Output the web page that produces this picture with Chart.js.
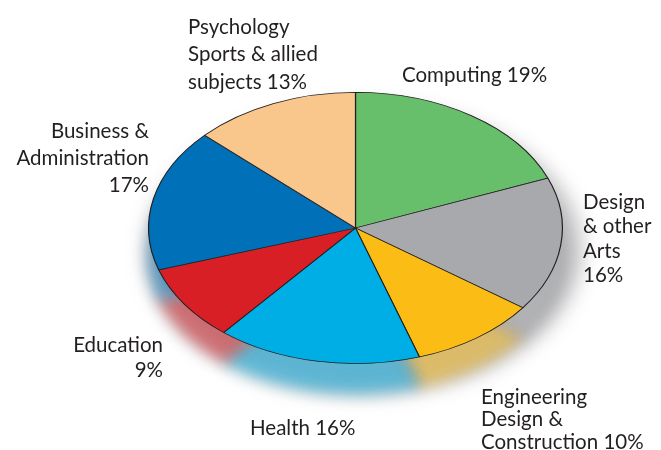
<!DOCTYPE html>
<html>
<head>
<meta charset="utf-8">
<script src="https://cdn.jsdelivr.net/npm/chart.js@4.4.1/dist/chart.umd.min.js"></script>
<style>
  html, body { margin: 0; padding: 0; background: #ffffff; }
  #wrap { position: relative; width: 661px; height: 450px; }
</style>
</head>
<body>
<div id="wrap"><canvas id="pieChart" width="661" height="450"></canvas></div>
<script>
// data, clockwise from 12 o'clock
let categories = ['Computing', 'Design & other Arts', 'Engineering Design & Construction', 'Health', 'Education', 'Business & Administration', 'Psychology Sports & allied subjects'];
let shares = [19, 16, 10, 16, 9, 17, 13];
let sliceColors = ['#67bf6b', '#a7a9ac', '#fbbc15', '#00aee6', '#d91f26', '#0071b9', '#f9c78c'];

// label text lines (last line carries the share)
let labelLines = [
  ['Computing 19%'],
  ['Design', '& other', 'Arts', '16%'],
  ['Engineering', 'Design &', 'Construction 10%'],
  ['Health 16%'],
  ['Education', '9%'],
  ['Business &', 'Administration', '17%'],
  ['Psychology', 'Sports & allied', 'subjects 13%']
];

// where each label block sits: x, first line middle y, line height, alignment
let labelPlace = [
  { x: 402, y: 75, lh: 27, align: 'left' },
  { x: 583, y: 202, lh: 24.5, align: 'left' },
  { x: 481, y: 397, lh: 22.5, align: 'left' },
  { x: 250, y: 428, lh: 27, align: 'left' },
  { x: 163, y: 345, lh: 25, align: 'right' },
  { x: 149, y: 131, lh: 27, align: 'right' },
  { x: 188, y: 27, lh: 27.5, align: 'left' }
];

let squash = 136 / 207.5;

function squashAround(ctx, area) {
  let cy = (area.top + area.bottom) / 2;
  ctx.translate(0, cy);
  ctx.scale(1, squash);
  ctx.translate(0, -cy);
}

let ellipsePie = {
  id: 'ellipsePie',
  beforeDatasetsDraw(chart) {
    let ctx = chart.ctx;
    let area = chart.chartArea;
    let arcs = chart.getDatasetMeta(0).data;
    let cx = (area.left + area.right) / 2;
    let cy = (area.top + area.bottom) / 2;
    let r = (area.right - area.left) / 2;

    // soft grey rim below
    ctx.save();
    ctx.filter = 'blur(10px)';
    ctx.fillStyle = 'rgba(120,120,125,0.5)';
    ctx.beginPath();
    ctx.ellipse(cx + 8, cy + 22, r + 10, r * squash + 8, 0, 0, Math.PI * 2);
    ctx.fill();
    ctx.restore();

    // blurred coloured copy, paler
    ctx.save();
    ctx.filter = 'blur(7px)';
    ctx.globalAlpha = 0.5;
    ctx.translate(0, 30);
    squashAround(ctx, area);
    arcs.forEach(a => a.draw(ctx));
    ctx.restore();

    ctx.save();
    squashAround(ctx, area);
  },
  afterDatasetsDraw(chart) {
    chart.ctx.restore();
  },
  afterDraw(chart) {
    let ctx = chart.ctx;
    ctx.save();
    ctx.font = '20.5px Lato';
    ctx.fillStyle = '#231f20';
    ctx.textBaseline = 'middle';
    labelLines.forEach((lines, i) => {
      let p = labelPlace[i];
      ctx.textAlign = p.align;
      lines.forEach((t, j) => ctx.fillText(t, p.x, p.y + j * p.lh));
    });
    ctx.restore();
  }
};

let ctx = document.getElementById('pieChart').getContext('2d');
let pieChart = new Chart(ctx, {
  type: 'pie',
  data: {
    labels: categories,
    datasets: [{
      data: shares,
      backgroundColor: sliceColors,
      borderColor: '#231f20',
      borderWidth: 1.2
    }]
  },
  options: {
    responsive: false,
    animation: false,
    layout: {
      padding: { left: 148, right: 98, top: 20.5, bottom: 14.5 }
    },
    plugins: {
      legend: { display: false },
      tooltip: { enabled: false }
    }
  },
  plugins: [ellipsePie]
});
</script>
</body>
</html>
